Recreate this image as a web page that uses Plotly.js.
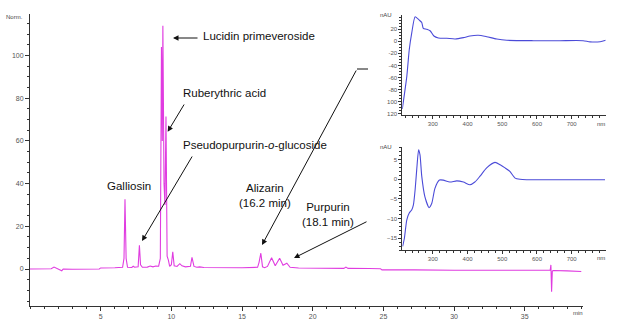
<!DOCTYPE html>
<html>
<head>
<meta charset="utf-8">
<script src="https://cdn.plot.ly/plotly-3.0.1.min.js"></script>
<style>html,body{margin:0;padding:0;background:#fff;}#chart{width:620px;height:326px;}</style>
</head>
<body>
<div id="chart"></div>
<script>
// Chromatogram (time in min, signal Norm.)
const chromTime = [0.0,1.5,1.7,1.85,2.0,2.25,2.35,3.0,4.9,5.0,6.0,6.55,6.65,6.72,6.8,6.9,7.2,7.3,7.4,7.65,7.74,7.82,7.95,8.3,8.5,8.7,8.9,9.1,9.22,9.30,9.36,9.40,9.48,9.55,9.62,9.70,9.79,9.88,10.0,10.1,10.2,10.4,10.6,10.75,11.0,11.35,11.46,11.6,11.8,12.0,12.3,13.5,15.0,16.1,16.2,16.33,16.45,16.6,16.8,17.09,17.35,17.66,17.9,18.17,18.4,19.0,20.0,22.2,22.35,22.5,24.0,24.8,24.9,27.0,27.2,30.0,33.0,35.0,36.8,36.85,36.9,36.95,37.0,38.0,39.0];
const chromSignal = [0,0.1,0.9,0.5,0.2,-0.8,0,-0.1,0,0.5,0.6,0.8,5,32.7,5,0.8,0.7,1.3,0.8,1,11.1,2,0.8,0.9,1.4,1.0,1.4,1.3,5,104,60,114,40,30,71.5,6,4.2,1.2,2,8,1.5,1.2,2.5,1.5,1,1.3,5.5,1.2,0.8,1.0,0.7,0.6,0.6,0.8,3,7.4,1,0.6,1.2,5.3,1.5,5,1.8,2.7,0.8,0.5,0.4,0.3,0.9,0.3,0.2,0.1,-0.4,-0.3,-0.4,-0.6,-0.5,-0.6,-0.6,1.9,-10.6,-1,-0.7,-0.9,-1.2];

// Top inset spectrum (Alizarin)
const specTopNm = [212,225,232,239,249,261,268,272.5,282,292,303,316,340,364,388,407,431,455,484,513,590,666,733,753,782,798];
const specTopAU = [-112,-58,-14,13,40.7,35,31,21.5,20,17.5,8.8,5.5,5,3.8,6,8.8,10,7.6,3.8,1.7,1,1,1,-1,-0.7,1.7];

// Bottom inset spectrum (Purpurin)
const specBotNm = [213,218,225,232,239,244,249,253.5,259,263,268,277,289,297,306,319,330,349,369,388,407,421,436,455,479,494,508,522,537,551,570,796];
const specBotAU = [-17.1,-15,-10.3,-8.6,-7.8,-6.5,-2.6,2.4,7.5,6.2,0.8,-4.4,-7.2,-6.1,-2.3,-0.2,-0.2,-0.7,-0.4,-0.7,-1.4,-0.7,0.8,2.9,4.3,3.7,2.9,2.0,0.3,0,-0.1,-0.1];

// Tick labels
const mainXTicks = [5,10,15,20,25,30,35];
const mainYTicks = [0,20,40,60,80,100];
const insetXTicks = [300,400,500,600,700];
const topYTicks = [20,0,-20,-40,-60,-80,-100,-120];
const topYText = ["20","0","-20","-40","-60","-80","100","120"];
const botYTicks = [5,0,-5,-10,-15];

const W = 620, H = 326;
const px = x => x / W;
const py = y => 1 - y / H;

const axisCommon = {
  showgrid:false, zeroline:false, showline:true, linecolor:'#333', linewidth:1,
  ticks:'outside', tickcolor:'#333', tickwidth:1, fixedrange:true
};

const traces = [
  {x: chromTime, y: chromSignal, type:'scatter', mode:'lines', line:{color:'#e03ce0', width:1.1}, xaxis:'x', yaxis:'y', hoverinfo:'skip'},
  {x: specTopNm, y: specTopAU, type:'scatter', mode:'lines', line:{color:'#4b4bd8', width:1.1, shape:'spline', smoothing:0.6}, xaxis:'x2', yaxis:'y2', hoverinfo:'skip'},
  {x: specBotNm, y: specBotAU, type:'scatter', mode:'lines', line:{color:'#4b4bd8', width:1.1, shape:'spline', smoothing:0.6}, xaxis:'x3', yaxis:'y3', hoverinfo:'skip'}
];

const tickFontMain = {family:'Arial, Liberation Sans, sans-serif', size:7, color:'#555'};
const tickFontInset = {family:'Arial, Liberation Sans, sans-serif', size:6, color:'#555'};

const layout = {
  width: W, height: H,
  margin:{l:0,r:0,t:0,b:0},
  paper_bgcolor:'#fff', plot_bgcolor:'rgba(0,0,0,0)',
  showlegend:false,
  xaxis: Object.assign({}, axisCommon, {
    domain:[px(30), px(582.7)], range:[0, 39.1], anchor:'y',
    tickmode:'array', tickvals: mainXTicks, ticklen:4, tickfont: tickFontMain,
    minor:{tickmode:'linear', tick0:0, dtick:1, ticklen:2, tickcolor:'#333', ticks:'outside'}
  }),
  yaxis: Object.assign({}, axisCommon, {
    domain:[py(305.7), py(14)], range:[-17.2, 119.5], anchor:'x',
    tickmode:'array', tickvals: mainYTicks, ticklen:4, tickfont: tickFontMain,
    minor:{tickmode:'linear', tick0:0, dtick:5, ticklen:2, tickcolor:'#333', ticks:'outside'}
  }),
  xaxis2: Object.assign({}, axisCommon, {
    domain:[px(402.3), px(605.7)], range:[212, 798], anchor:'y2',
    tickmode:'array', tickvals: insetXTicks, ticklen:3, tickfont: tickFontInset,
    minor:{tickmode:'linear', tick0:0, dtick:20, ticklen:2, tickcolor:'#333', ticks:'outside'}
  }),
  yaxis2: Object.assign({}, axisCommon, {
    domain:[py(115), py(15)], range:[-122, 43.5], anchor:'x2',
    tickmode:'array', tickvals: topYTicks, ticktext: topYText, ticklen:3, tickfont: tickFontInset,
    minor:{tickmode:'linear', tick0:0, dtick:5, ticklen:2, tickcolor:'#333', ticks:'outside'}
  }),
  xaxis3: Object.assign({}, axisCommon, {
    domain:[px(402.3), px(605.7)], range:[212, 798], anchor:'y3',
    tickmode:'array', tickvals: insetXTicks, ticklen:3, tickfont: tickFontInset,
    minor:{tickmode:'linear', tick0:0, dtick:20, ticklen:2, tickcolor:'#333', ticks:'outside'}
  }),
  yaxis3: Object.assign({}, axisCommon, {
    domain:[py(250), py(146.7)], range:[-18, 8.3], anchor:'x3',
    tickmode:'array', tickvals: botYTicks, ticklen:3, tickfont: tickFontInset,
    minor:{tickmode:'linear', tick0:0, dtick:1, ticklen:2, tickcolor:'#333', ticks:'outside'}
  }),
  shapes: [
    {type:'line', xref:'paper', yref:'paper', x0:px(357), y0:py(69), x1:px(368), y1:py(69), line:{color:'#111', width:1}}
  ],
  annotations: []
};

const labelFont = {family:'Arial, Liberation Sans, sans-serif', size:11.5, color:'#111'};
function txt(text, x, y, xanchor, font){
  layout.annotations.push({text:text, xref:'paper', yref:'paper', x:px(x), y:py(y),
    xanchor:xanchor||'left', yanchor:'middle', showarrow:false, font:font||labelFont, align:'center'});
}
function arrow(hx, hy, tx, ty){
  layout.annotations.push({text:'', xref:'paper', yref:'paper', axref:'paper', ayref:'paper',
    x:px(hx), y:py(hy), ax:px(tx), ay:py(ty), showarrow:true, arrowhead:2, arrowsize:1.1,
    arrowwidth:1, arrowcolor:'#111', standoff:0, startstandoff:0});
}

txt('Lucidin primeveroside', 201, 36);
arrow(173, 38, 199, 38);
txt('Ruberythric acid', 181, 93);
arrow(167.7, 131.7, 185, 103);
txt('Pseudopurpurin-<i>o</i>-glucoside', 181, 145);
arrow(142, 241, 193, 155);
txt('Galliosin', 105, 186);
txt('Alizarin<br>(16.2 min)', 265, 195, 'center');
arrow(262, 245, 357, 69);
txt('Purpurin<br>(18.1 min)', 328, 214, 'center');
arrow(294, 258, 368, 221);

const smallFont = {family:'Arial, Liberation Sans, sans-serif', size:6, color:'#444'};
txt('Norm.', 14, 17, 'center', smallFont);
txt('min', 578, 313, 'center', smallFont);
txt('nAU', 386, 15, 'center', smallFont);
txt('nAU', 386, 147, 'center', smallFont);
txt('nm', 601, 124, 'center', smallFont);
txt('nm', 601, 258, 'center', smallFont);

Plotly.newPlot('chart', traces, layout, {displayModeBar:false, staticPlot:true});
</script>
</body>
</html>
